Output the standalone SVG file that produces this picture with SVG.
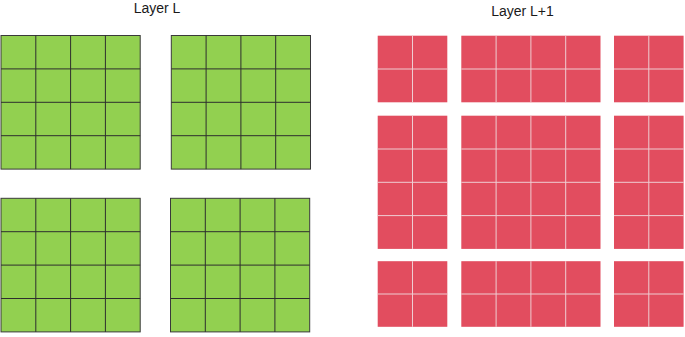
<svg xmlns="http://www.w3.org/2000/svg" width="685" height="337" viewBox="0 0 685 337">
<style>
.t{font-family:"Liberation Sans",Arial,sans-serif;font-size:14px;fill:#1a1a1a}
.g{fill:#92D050;stroke:#3a3a3a;stroke-width:1}
.gl{stroke:#2e2e2e;stroke-width:1;fill:none}
.r{fill:#E24D5F;stroke:none}
.rl{stroke:#EFCDD2;stroke-width:1;fill:none}
</style>
<rect width="685" height="337" fill="#fff"/>
<text class="t" x="157" y="13" text-anchor="middle">Layer L</text>
<text class="t" x="522.5" y="16" text-anchor="middle">Layer L+1</text>

<g id="green-tl">
<rect class="g" x="1" y="35.5" width="139.2" height="133.6"/>
<path class="gl" d="M35.8 35.5V169.1M70.6 35.5V169.1M105.4 35.5V169.1M1 68.9H140.2M1 102.3H140.2M1 135.7H140.2"/>
</g>
<g id="green-tr">
<rect class="g" x="171.3" y="35.5" width="139.2" height="133.6"/>
<path class="gl" d="M206.1 35.5V169.1M240.9 35.5V169.1M275.7 35.5V169.1M171.3 68.9H310.5M171.3 102.3H310.5M171.3 135.7H310.5"/>
</g>
<g id="green-bl">
<rect class="g" x="1" y="198.3" width="139.2" height="133.6"/>
<path class="gl" d="M35.8 198.3V331.9M70.6 198.3V331.9M105.4 198.3V331.9M1 231.7H140.2M1 265.1H140.2M1 298.5H140.2"/>
</g>
<g id="green-br">
<rect class="g" x="170.5" y="198.3" width="139.2" height="133.6"/>
<path class="gl" d="M205.3 198.3V331.9M240.1 198.3V331.9M274.9 198.3V331.9M170.5 231.7H309.7M170.5 265.1H309.7M170.5 298.5H309.7"/>
</g>

<g id="red-a1">
<rect class="r" x="377.7" y="35.7" width="69.6" height="66.6"/>
<path class="rl" d="M412.5 35.7V102.3M377.7 69H447.3"/>
</g>
<g id="red-b1">
<rect class="r" x="461.3" y="35.7" width="139.2" height="66.6"/>
<path class="rl" d="M496.1 35.7V102.3M530.9 35.7V102.3M565.7 35.7V102.3M461.3 69H600.5"/>
</g>
<g id="red-c1">
<rect class="r" x="614" y="35.7" width="69.6" height="66.6"/>
<path class="rl" d="M648.8 35.7V102.3M614 69H683.6"/>
</g>

<g id="red-a2">
<rect class="r" x="377.7" y="115.7" width="69.6" height="133.2"/>
<path class="rl" d="M412.5 115.7V248.9M377.7 149H447.3M377.7 182.3H447.3M377.7 215.6H447.3"/>
</g>
<g id="red-b2">
<rect class="r" x="461.3" y="115.7" width="139.2" height="133.2"/>
<path class="rl" d="M496.1 115.7V248.9M530.9 115.7V248.9M565.7 115.7V248.9M461.3 149H600.5M461.3 182.3H600.5M461.3 215.6H600.5"/>
</g>
<g id="red-c2">
<rect class="r" x="614" y="115.7" width="69.6" height="133.2"/>
<path class="rl" d="M648.8 115.7V248.9M614 149H683.6M614 182.3H683.6M614 215.6H683.6"/>
</g>

<g id="red-a3">
<rect class="r" x="377.7" y="261.2" width="69.6" height="65.6"/>
<path class="rl" d="M412.5 261.2V326.8M377.7 294H447.3"/>
</g>
<g id="red-b3">
<rect class="r" x="461.3" y="261.2" width="139.2" height="65.6"/>
<path class="rl" d="M496.1 261.2V326.8M530.9 261.2V326.8M565.7 261.2V326.8M461.3 294H600.5"/>
</g>
<g id="red-c3">
<rect class="r" x="614" y="261.2" width="69.6" height="65.6"/>
<path class="rl" d="M648.8 261.2V326.8M614 294H683.6"/>
</g>
</svg>
